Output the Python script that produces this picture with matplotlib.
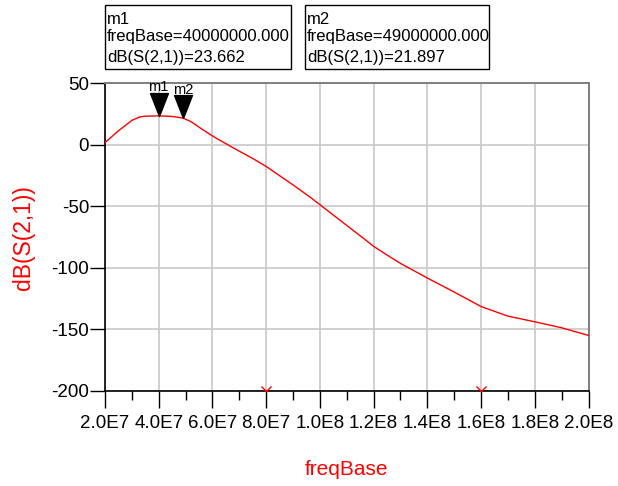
import matplotlib
matplotlib.use("Agg")
import matplotlib.pyplot as plt
from matplotlib.patches import Rectangle
from matplotlib.path import Path
import numpy as np

plt.rcParams['font.family'] = ['Liberation Sans', 'DejaVu Sans']

# data (frequency in Hz, dB(S(2,1)))
freq = [2.0e7, 2.5e7, 3.0e7, 3.3e7, 3.5e7, 4.0e7, 4.5e7, 4.9e7, 5.2e7, 5.6e7,
        6.0e7, 6.8e7, 7.5e7, 8.0e7, 8.5e7, 9.0e7, 9.7e7, 1.0e8, 1.1e8, 1.17e8,
        1.2e8, 1.25e8, 1.3e8, 1.4e8, 1.5e8, 1.6e8, 1.7e8, 1.8e8, 1.9e8, 2.0e8]
db_s21 = [1.9, 11.5, 20.0, 22.8, 23.4, 23.662, 23.2, 21.897, 19.0, 13.0,
          7.3, -2.7, -11.0, -17.5, -25.0, -32.5, -43.5, -48.6, -65.5, -77.3,
          -82.5, -89.6, -96.4, -108.3, -119.7, -131.5, -139.3, -143.9, -148.8, -155.0]

markers = ["m1", "m2"]
marker_freq = [4.0e7, 4.9e7]
marker_val = [23.662, 21.897]
marker_lines = [["m1", "freqBase=40000000.000", "dB(S(2,1))=23.662"],
                ["m2", "freqBase=49000000.000", "dB(S(2,1))=21.897"]]

xticks = [2.0e7, 4.0e7, 6.0e7, 8.0e7, 1.0e8, 1.2e8, 1.4e8, 1.6e8, 1.8e8, 2.0e8]
xticklabels = ["2.0E7", "4.0E7", "6.0E7", "8.0E7", "1.0E8", "1.2E8", "1.4E8",
               "1.6E8", "1.8E8", "2.0E8"]
yticks = [50, 0, -50, -100, -150, -200]
xmarks = [8.0e7, 1.6e8]

W, H = 618, 486
fig = plt.figure(figsize=(W / 100, H / 100), dpi=100)
L, R, T, B = 105, 588.5, 83.5, 390.7
ax = fig.add_axes([L / W, 1 - B / H, (R - L) / W, (B - T) / H])

ax.plot(freq, db_s21, color='#ff0000', lw=1.0, zorder=3)
ax.plot(xmarks, [-200, -200], linestyle='none', marker='x', color='#ff0000',
        ms=7, mew=1.0, zorder=4, clip_on=True)

ax.set_xlim(2.0e7, 2.0e8)
ax.set_ylim(-200, 50)
ax.set_xticks(xticks)
ax.set_xticklabels(xticklabels)
ax.set_xticks(np.arange(3.0e7, 2.0e8, 2.0e7), minor=True)
ax.set_yticks(yticks)
ax.set_yticklabels([str(v) for v in yticks])

ax.grid(True, which='major', color='#c8c8c8', lw=1.2, zorder=0)
ax.set_axisbelow(True)

ax.tick_params(axis='x', which='major', direction='out', length=12, width=1,
               labelsize=13.5, pad=5.5, colors='black')
ax.tick_params(axis='x', which='minor', direction='out', length=6.5, width=1,
               colors='black')
ax.tick_params(axis='y', which='major', direction='out', length=11, width=1,
               labelsize=13.5, pad=0.5, colors='black')

for s in ['left', 'bottom']:
    ax.spines[s].set_color('black')
    ax.spines[s].set_linewidth(1.2)
for s in ['top', 'right']:
    ax.spines[s].set_color('#7f7f7f')
    ax.spines[s].set_linewidth(1.4)

ax.set_xlabel("freqBase", color='#ff0000', fontsize=15)
ax.xaxis.set_label_coords(0.5, (B - 469) / (B - T))
ax.xaxis.label.set_va('center')
ax.set_ylabel("dB(S(2,1))", color='#ff0000', fontsize=16.5)
ax.yaxis.set_label_coords((24 - L) / (R - L), 0.5)
ax.yaxis.label.set_va('center')

# marker triangles (tip on the curve)
tri = Path([(-0.39, 1.0), (0.39, 1.0), (0.0, 0.0), (-0.39, 1.0)],
           [Path.MOVETO, Path.LINETO, Path.LINETO, Path.CLOSEPOLY])
for name, fx, fv in zip(markers, marker_freq, marker_val):
    ax.plot([fx], [fv], marker=tri, ms=33, color='black', linestyle='none',
            zorder=5, clip_on=False)
    ax.annotate(name, (fx, fv), xytext=(0, 15.5), textcoords='offset points',
                ha='center', va='bottom', fontsize=10.5, color='black',
                annotation_clip=False, zorder=6)

# marker readout boxes
boxes = [(105, 291), (305, 489)]
for (x0, x1), lines in zip(boxes, marker_lines):
    fig.patches.append(Rectangle((x0 / W, 1 - 69 / H), (x1 - x0) / W, 64 / H,
                                 transform=fig.transFigure, fill=False,
                                 edgecolor='black', lw=1.0))
    for yb, txt in zip([24, 41.5, 62], lines):
        fig.text((x0 + 2) / W, 1 - yb / H, txt, fontsize=12, color='black',
                 ha='left', va='baseline')

fig.savefig("out.png", dpi=100)
